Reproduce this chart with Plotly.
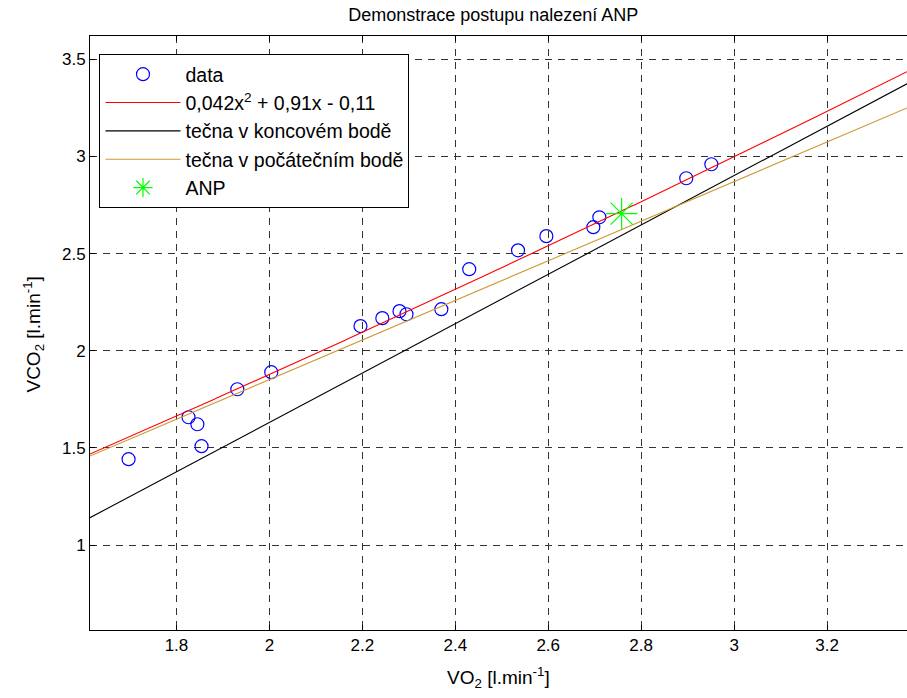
import plotly.graph_objects as go
import numpy as np

# ---- data ----
vo2 = [1.697, 1.826, 1.845, 1.854, 1.931, 2.004, 2.196, 2.243, 2.280, 2.295,
       2.370, 2.430, 2.535, 2.596, 2.697, 2.710, 2.897, 2.951]
vco2 = [1.442, 1.658, 1.622, 1.509, 1.802, 1.890, 2.127, 2.168, 2.204, 2.188,
        2.214, 2.420, 2.517, 2.590, 2.636, 2.687, 2.888, 2.960]
fit_coef = [0.042, 0.91, -0.11]           # quadratic fit a, b, c
line_x = [1.614, 3.372]                   # x extent of fitted / tangent lines
tangent_end_y = [1.141, 3.374]            # tečna v koncovém bodě
tangent_start_y = [1.458, 3.250]          # tečna v počátečním bodě
anp_x = [2.758]
anp_y = [2.706]

x_ticks = [1.8, 2.0, 2.2, 2.4, 2.6, 2.8, 3.0, 3.2]
x_labels = ["1.8", "2", "2.2", "2.4", "2.6", "2.8", "3", "3.2"]
y_ticks = [1.0, 1.5, 2.0, 2.5, 3.0, 3.5]
y_labels = ["1", "1.5", "2", "2.5", "3", "3.5"]

FONT = "Liberation Sans, Arial, Helvetica, sans-serif"

xf = np.linspace(line_x[0], line_x[1], 200)
yf = fit_coef[0] * xf**2 + fit_coef[1] * xf + fit_coef[2]

fig = go.Figure()
fig.add_trace(go.Scatter(x=vo2, y=vco2, mode="markers", name="data",
                         marker=dict(symbol="circle-open", size=13, color="#0000FF",
                                     line=dict(width=1.2, color="#0000FF"))))
fig.add_trace(go.Scatter(x=xf, y=yf, mode="lines",
                         name="0,042x<sup>2</sup> + 0,91x - 0,11",
                         line=dict(color="#FF0000", width=1.1)))
fig.add_trace(go.Scatter(x=line_x, y=tangent_end_y, mode="lines",
                         name="tečna v koncovém bodě",
                         line=dict(color="#000000", width=1.1)))
fig.add_trace(go.Scatter(x=line_x, y=tangent_start_y, mode="lines",
                         name="tečna v počátečním bodě",
                         line=dict(color="rgb(204,153,51)", width=1.1)))
fig.add_trace(go.Scatter(x=anp_x, y=anp_y, mode="markers", name="ANP",
                         marker=dict(symbol="asterisk-open", size=26, color="#00FF00",
                                     line=dict(width=1.2, color="#00FF00"))))

L, T, B = 89.5, 36, 68
W, H = 907, 698
pw = W - L
ph = H - T - B

axis_common = dict(
    showline=True, linecolor="black", linewidth=1,
    ticks="inside", ticklen=5, tickcolor="black", tickwidth=1,
    showgrid=True, gridcolor="#333333", gridwidth=1, griddash="7px,6px",
    zeroline=False, tickfont=dict(family=FONT, size=17, color="black"),
)

fig.update_layout(
    width=W, height=H,
    margin=dict(l=L, r=0, t=T, b=B, pad=0),
    paper_bgcolor="white", plot_bgcolor="white",
    font=dict(family=FONT, size=17, color="black"),
    showlegend=True,
    legend=dict(x=(99 - L) / pw, y=(630 - 54) / ph, xanchor="left", yanchor="top",
                bgcolor="white", bordercolor="black", borderwidth=1,
                font=dict(family=FONT, size=19.5, color="black"),
                itemwidth=75, tracegroupgap=0),
    title=dict(text="Demonstrace postupu nalezení ANP", x=(493 - L) / pw, xref="paper",
               xanchor="center", y=1 - 15 / H, yref="container", yanchor="middle",
               font=dict(family=FONT, size=18, color="black")),
)
fig.update_xaxes(range=[1.614, 3.372], tickvals=x_ticks, ticktext=x_labels,
                 mirror="allticks", **axis_common)
fig.update_yaxes(range=[0.563, 3.62], tickvals=y_ticks, ticktext=y_labels,
                 mirror=False, **axis_common)

fig.add_annotation(text="VO<sub>2</sub> [l.min<sup>-1</sup>]", xref="paper", yref="paper",
                   x=0.5, y=(630 - 677) / ph, xanchor="center", yanchor="middle",
                   showarrow=False, font=dict(family=FONT, size=19, color="black"))
fig.add_annotation(text="VCO<sub>2</sub> [l.min<sup>-1</sup>]", xref="paper", yref="paper",
                   x=(32 - L) / pw, y=(630 - 335) / ph, xanchor="center", yanchor="middle",
                   textangle=-90, showarrow=False,
                   font=dict(family=FONT, size=19, color="black"))

fig.write_html("out.html")
